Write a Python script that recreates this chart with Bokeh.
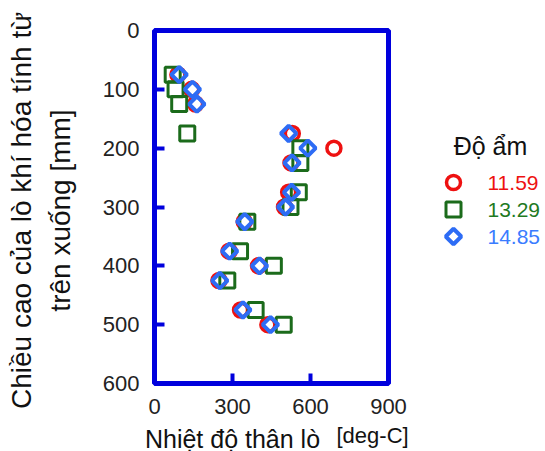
import numpy as np
from bokeh.plotting import figure
from bokeh.models import Range1d, FixedTicker
from bokeh.layouts import row, column
from bokeh.embed import file_html
from bokeh.resources import INLINE
from bokeh.core.properties import value

# ---- data ----
depth_mm = [75, 100, 125, 175, 200, 225, 275, 300, 325, 375, 400, 425, 475, 500]
temp_1159 = [90, 143, 158, 530, 690, 525, 516, 500, 345, 287, 400, 248, 331, 436]
temp_1329 = [70, 81, 95, 126, 561, 561, 555, 523, 357, 329, 459, 280, 389, 497]
temp_1485 = [95, 146, 163, 516, 590, 529, 527, 504, 347, 289, 404, 251, 340, 446]
series_labels = ["11.59", "13.29", "14.85"]
legend_title = "Độ ẩm"
x_ticks = [0, 300, 600, 900]
y_ticks = [0, 100, 200, 300, 400, 500, 600]
x_label = "Nhiệt độ thân lò"
x_unit = "[deg-C]"
y_label_lines = ["Chiều cao của lò khí hóa tính từ", "trên xuống [mm]"]

# ---- styles ----
FONT = "Liberation Sans"
FRAME = "#0000dd"
RED = "#ee1111"
GREEN = "#1b6b1b"
BLUE = "#2d6cf5"
TEXT_COLORS = ["#ee1111", "#1f7a1f", "#3a7cff"]
styles = [
    dict(marker="circle", size=14, line_width=3.5, line_color=RED, angle=0),
    dict(marker="square", size=15, line_width=3, line_color=GREEN, angle=0),
    dict(marker="square", size=11, line_width=4, line_color=BLUE, angle=np.pi / 4),
]
series = [temp_1159, temp_1329, temp_1485]

TOP_H = 424
TOTAL_W = 544
YF_W = 84
MAIN_W = 330
LEG_W = TOTAL_W - YF_W - MAIN_W
XF_H = 27


def no_align(fig):
    try:
        fig.frame_align = False
    except Exception:
        pass


def helper(width, height, xr, yr):
    f = figure(width=width, height=height, x_range=Range1d(*xr), y_range=Range1d(*yr),
               title=None, output_backend="svg", toolbar_location=None,
               x_axis_location=None, y_axis_location=None, min_border=0,
               outline_line_color=None)
    f.grid.visible = False
    no_align(f)
    return f


# ---- main plot ----
p = figure(width=MAIN_W, height=TOP_H, x_range=Range1d(0, 900), y_range=Range1d(600, 0),
           title=None, output_backend="svg", toolbar_location=None,
           min_border_left=70, min_border_right=26, min_border_top=30,
           min_border_bottom=TOP_H - 383)
no_align(p)
p.outline_line_color = FRAME
p.outline_line_width = 5
p.outline_line_alpha = 1
p.grid.visible = False
p.xaxis.ticker = FixedTicker(ticks=x_ticks)
p.yaxis.ticker = FixedTicker(ticks=y_ticks)
for ax in p.axis:
    ax.axis_line_color = None
    ax.major_tick_in = 10
    ax.major_tick_out = 0
    ax.major_tick_line_color = FRAME
    ax.major_tick_line_width = 4
    ax.minor_tick_line_color = None
    ax.major_label_text_font = FONT
    ax.major_label_text_font_size = "22px"
    ax.major_label_text_color = "#222222"
p.xaxis.major_label_standoff = 15
p.yaxis.major_label_standoff = 15

for xs, st in zip(series, styles):
    p.scatter(xs, depth_mm, fill_color=None, **st)

# ---- y axis title (left strip, pixel coordinates) ----
yf = helper(YF_W, TOP_H, (0, YF_W), (TOP_H, 0))
yf.text(x=[21, 60], y=[210, 210], text=y_label_lines, angle=np.pi / 2,
        text_align="center", text_baseline="middle", text_font=value(FONT),
        text_font_size="28px", text_color="#111111")

# ---- legend (right strip, pixel coordinates) ----
x0 = YF_W + MAIN_W
leg = helper(LEG_W, TOP_H, (x0, TOTAL_W), (TOP_H, 0))
leg.text(x=[490], y=[145], text=[legend_title], text_align="center", text_baseline="middle",
         text_font=value(FONT), text_font_size="25px", text_color="#111111")
for i, (lab, st, tc) in enumerate(zip(series_labels, styles, TEXT_COLORS)):
    yy = 182 + 27 * i
    leg.scatter([453], [yy], fill_color=None, **st)
    leg.text(x=[487], y=[yy], text=[lab], text_align="left", text_baseline="middle",
             text_font=value(FONT), text_font_size="21px", text_color=tc)

# ---- x axis title (bottom strip, pixel coordinates) ----
xf = helper(TOTAL_W, XF_H, (0, TOTAL_W), (TOP_H + XF_H, TOP_H))
xf.text(x=[232], y=[438], text=[x_label], text_align="center", text_baseline="middle",
        text_font=value(FONT), text_font_size="25px", text_color="#111111")
xf.text(x=[336], y=[435], text=[x_unit], text_align="left", text_baseline="middle",
        text_font=value(FONT), text_font_size="22px", text_color="#111111")

layout = column(row(yf, p, leg, spacing=0), xf, spacing=0)
open("out.html", "w").write(file_html(layout, INLINE))
